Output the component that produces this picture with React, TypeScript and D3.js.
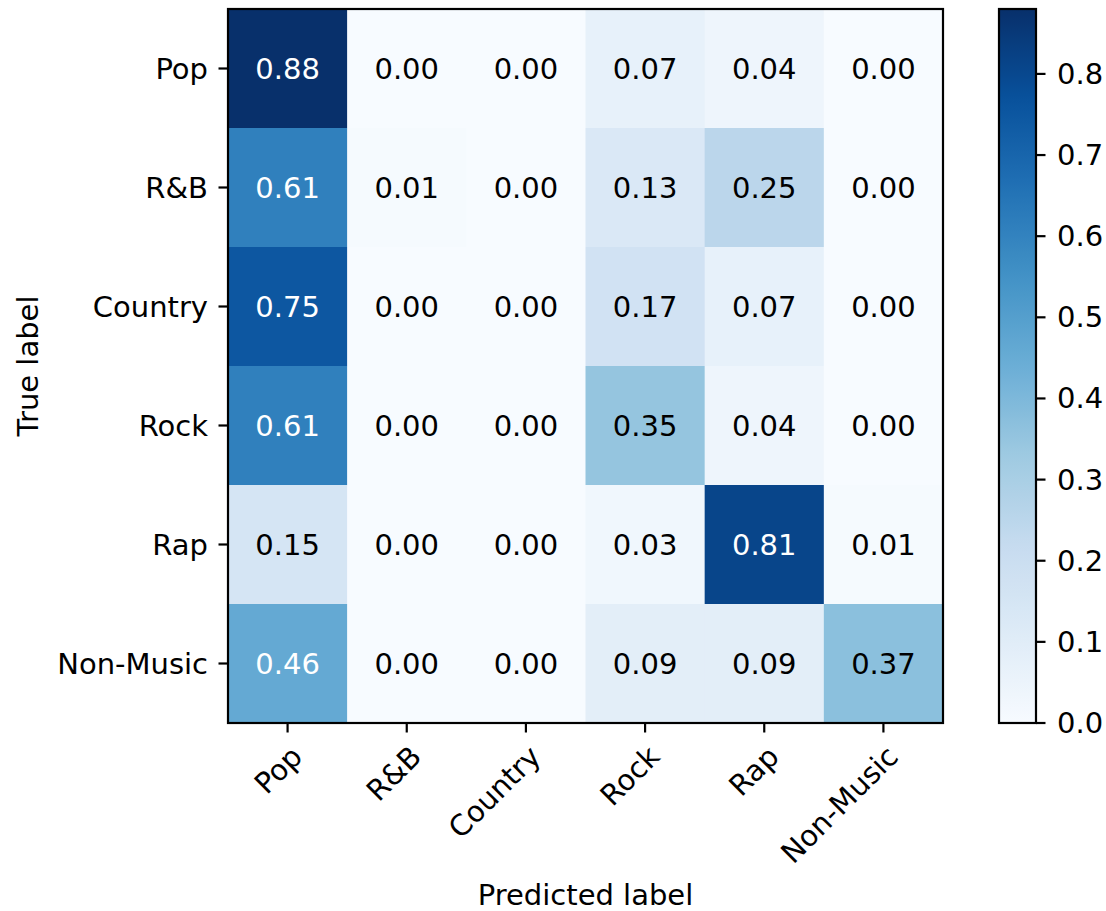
import React from "react";
import * as d3 from "d3";

const rowLabels = ["Pop", "R&B", "Country", "Rock", "Rap", "Non-Music"];
const colLabels = ["Pop", "R&B", "Country", "Rock", "Rap", "Non-Music"];
const popRow = [0.88, 0.0, 0.0, 0.07, 0.04, 0.0];
const rnbRow = [0.61, 0.01, 0.0, 0.13, 0.25, 0.0];
const countryRow = [0.75, 0.0, 0.0, 0.17, 0.07, 0.0];
const rockRow = [0.61, 0.0, 0.0, 0.35, 0.04, 0.0];
const rapRow = [0.15, 0.0, 0.0, 0.03, 0.81, 0.01];
const nonMusicRow = [0.46, 0.0, 0.0, 0.09, 0.09, 0.37];
const matrix = [popRow, rnbRow, countryRow, rockRow, rapRow, nonMusicRow];
const colorbarTicks = [0.0, 0.1, 0.2, 0.3, 0.4, 0.5, 0.6, 0.7, 0.8];
const bluesStops = ["#f7fbff", "#deebf7", "#c6dbef", "#9ecae1", "#6baed6", "#4292c6", "#2171b5", "#08519c", "#08306b"];

const W = 1106;
const H = 911;
const left = 228;
const right = 943;
const top = 9;
const bottom = 723;
const cbLeft = 999;
const cbRight = 1036;
const FONT = "'DejaVu Sans', sans-serif";
const FS = 29;
const TICK = 9.5;
const PAD = 9.5;

export default function App() {
  const vmax = d3.max(matrix.flat()) as number;
  const color = d3
    .scaleLinear<string>()
    .domain(bluesStops.map((_, i) => (i / (bluesStops.length - 1)) * vmax))
    .range(bluesStops)
    .interpolate(d3.interpolateRgb)
    .clamp(true);
  const x = d3.scaleBand<string>().domain(colLabels).range([left, right]);
  const y = d3.scaleBand<string>().domain(rowLabels).range([top, bottom]);
  const cbY = d3.scaleLinear().domain([0, vmax]).range([bottom, top]);
  const thresh = vmax / 2;
  const gradStops = d3.range(0, 1.0001, 0.02);

  return (
    <div style={{ position: "absolute", left: 0, top: 0 }}>
      <svg width={W} height={H} style={{ display: "block", background: "#fff" }} fontFamily={FONT}>
        <defs>
          <linearGradient id="cbgrad" x1="0" y1="1" x2="0" y2="0">
            {gradStops.map((t) => (
              <stop key={t} offset={t} stopColor={color(t * vmax)} />
            ))}
          </linearGradient>
        </defs>
        {matrix.map((row, i) =>
          row.map((v, j) => (
            <rect
              key={`c${i}-${j}`}
              x={x(colLabels[j])}
              y={y(rowLabels[i])}
              width={x.bandwidth() + 0.5}
              height={y.bandwidth() + 0.5}
              fill={color(v)}
            />
          ))
        )}
        {matrix.map((row, i) =>
          row.map((v, j) => (
            <text
              key={`t${i}-${j}`}
              x={(x(colLabels[j]) as number) + x.bandwidth() / 2}
              y={(y(rowLabels[i]) as number) + y.bandwidth() / 2}
              textAnchor="middle"
              dominantBaseline="central"
              fontSize={FS}
              fill={v > thresh ? "#fff" : "#000"}
            >
              {v.toFixed(2)}
            </text>
          ))
        )}
        <rect x={left} y={top} width={right - left} height={bottom - top} fill="none" stroke="#000" strokeWidth={2.2} />
        {rowLabels.map((r) => {
          const cy = (y(r) as number) + y.bandwidth() / 2;
          return (
            <g key={`yl${r}`}>
              <line x1={left - TICK} x2={left} y1={cy} y2={cy} stroke="#000" strokeWidth={2.2} />
              <text x={left - TICK - PAD - 1} y={cy} textAnchor="end" dominantBaseline="central" fontSize={FS} fill="#000">
                {r}
              </text>
            </g>
          );
        })}
        {colLabels.map((c) => {
          const cx = (x(c) as number) + x.bandwidth() / 2;
          const ty = bottom + TICK + PAD;
          return (
            <g key={`xl${c}`}>
              <line x1={cx} x2={cx} y1={bottom} y2={bottom + TICK} stroke="#000" strokeWidth={2.2} />
              <text
                transform={`translate(${cx},${ty}) rotate(-45)`}
                textAnchor="end"
                dy="0.8em"
                fontSize={FS}
                fill="#000"
              >
                {c}
              </text>
            </g>
          );
        })}
        <text x={28} y={(top + bottom) / 2} transform={`rotate(-90,28,${(top + bottom) / 2})`} textAnchor="middle" dominantBaseline="central" fontSize={FS} fill="#000">
          True label
        </text>
        <text x={(left + right) / 2} y={905} textAnchor="middle" fontSize={FS} fill="#000">
          Predicted label
        </text>
        <rect x={cbLeft} y={top} width={cbRight - cbLeft} height={bottom - top} fill="url(#cbgrad)" stroke="#000" strokeWidth={2.2} />
        {colorbarTicks.map((t) => (
          <g key={`cb${t}`}>
            <line x1={cbRight} x2={cbRight + TICK} y1={cbY(t)} y2={cbY(t)} stroke="#000" strokeWidth={2.2} />
            <text x={cbRight + TICK + PAD + 2} y={cbY(t)} dominantBaseline="central" fontSize={FS} fill="#000">
              {t.toFixed(1)}
            </text>
          </g>
        ))}
      </svg>
    </div>
  );
}
